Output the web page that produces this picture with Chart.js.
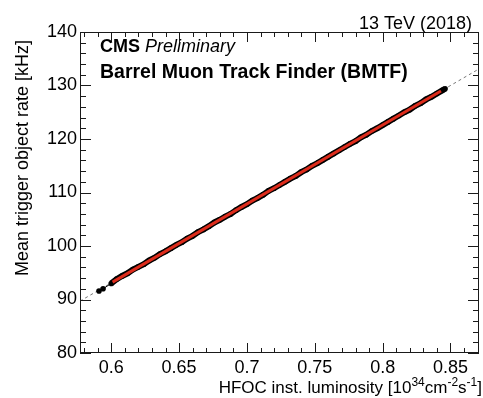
<!DOCTYPE html>
<html><head><meta charset="utf-8">
<script src="https://cdn.jsdelivr.net/npm/chart.js@4.4.0/dist/chart.umd.min.js"></script>
<style>html,body{margin:0;padding:0;background:#fff;}#wrap{width:483px;height:398px;}</style>
</head><body><div id="wrap"><canvas id="c" width="483" height="398"></canvas></div>
<script>
const lumi = [0.591,0.594,0.600,0.604,0.608,0.612,0.616,0.620,0.624,0.628,0.632,0.636,0.640,0.644,0.648,0.652,0.656,0.660,0.664,0.668,0.672,0.676,0.680,0.684,0.688,0.692,0.696,0.700,0.704,0.708,0.712,0.716,0.720,0.724,0.728,0.732,0.736,0.740,0.744,0.748,0.752,0.756,0.760,0.764,0.768,0.772,0.776,0.780,0.784,0.788,0.792,0.796,0.800,0.804,0.808,0.812,0.816,0.820,0.824,0.828,0.832,0.836,0.840,0.844,0.846];
const rate = [91.6,92.0,93.0,93.8,94.4,94.9,95.6,96.1,96.6,97.3,97.8,98.5,99.0,99.6,100.2,100.7,101.4,101.9,102.6,103.1,103.7,104.4,104.9,105.5,106.0,106.7,107.3,107.8,108.5,109.0,109.6,110.3,110.8,111.4,112.0,112.6,113.1,113.8,114.3,115.0,115.5,116.1,116.7,117.3,117.9,118.5,119.1,119.6,120.3,120.8,121.5,122.0,122.6,123.2,123.8,124.4,125.0,125.5,126.2,126.7,127.4,127.9,128.5,129.1,129.4];
// Linear fit: dashed extrapolation over full range, red over fitted range
const fitX = [0.577, 0.871];
const fitY = [89.7, 133.1];
const redX = [0.601, 0.843];
const redY = [93.25, 128.97];
// Axis ticks
const xTicks = [0.6, 0.65, 0.7, 0.75, 0.8, 0.85];
const xTickLabels = ['0.6', '0.65', '0.7', '0.75', '0.8', '0.85'];
const xMinor = [0.58,0.59,0.61,0.62,0.63,0.64,0.66,0.67,0.68,0.69,0.71,0.72,0.73,0.74,0.76,0.77,0.78,0.79,0.81,0.82,0.83,0.84,0.86,0.87];
const yTicks = [80, 90, 100, 110, 120, 130, 140];
const yTickLabels = ['80', '90', '100', '110', '120', '130', '140'];
const yMinor = [82,84,86,88,92,94,96,98,102,104,106,108,112,114,116,118,122,124,126,128,132,134,136,138];

const FONT = '"Liberation Sans", Arial, Helvetica, sans-serif';

const toPts = (xs, ys) => xs.map((x, i) => ({x: x, y: ys[i]}));

const framePlugin = {
  id: 'frame',
  afterDraw(chart) {
    const ctx = chart.ctx, a = chart.chartArea;
    const xs = chart.scales.x, ys = chart.scales.y;
    ctx.save();
    ctx.strokeStyle = '#1a1a1a';
    ctx.lineWidth = 1;
    ctx.strokeRect(a.left + 0.5, a.top + 0.5, a.right - a.left - 1, a.bottom - a.top - 1);
    ctx.beginPath();
    const xt = (v, len) => {
      const p = Math.round(xs.getPixelForValue(v)) + 0.5;
      ctx.moveTo(p, a.bottom); ctx.lineTo(p, a.bottom - len);
      ctx.moveTo(p, a.top); ctx.lineTo(p, a.top + len);
    };
    const yt = (v, len) => {
      const p = Math.round(ys.getPixelForValue(v)) + 0.5;
      ctx.moveTo(a.left, p); ctx.lineTo(a.left + len, p);
      ctx.moveTo(a.right, p); ctx.lineTo(a.right - len, p);
    };
    xTicks.forEach(v => xt(v, 10));
    xMinor.forEach(v => xt(v, 5));
    yTicks.forEach(v => yt(v, 11));
    yMinor.forEach(v => yt(v, 6));
    ctx.stroke();

    ctx.fillStyle = '#000';
    ctx.font = '18px ' + FONT;
    ctx.textAlign = 'right';
    ctx.textBaseline = 'alphabetic';
    ctx.fillText('13 TeV (2018)', 472, 29);
    ctx.textAlign = 'left';
    ctx.font = 'bold 18px ' + FONT;
    ctx.fillText('CMS', 100, 52);
    const w = ctx.measureText('CMS ').width;
    ctx.font = 'italic 18px ' + FONT;
    ctx.fillText('Preliminary', 100 + w, 52);
    ctx.font = 'bold 19.5px ' + FONT;
    ctx.fillText('Barrel Muon Track Finder (BMTF)', 100, 78);

    ctx.save();
    ctx.translate(28, 40);
    ctx.rotate(-Math.PI / 2);
    ctx.font = '18px ' + FONT;
    ctx.textAlign = 'right';
    ctx.fillText('Mean trigger object rate [kHz]', 0, 0);
    ctx.restore();

    const parts = [
      {t: 'HFOC inst. luminosity [10', sup: false},
      {t: '34', sup: true},
      {t: 'cm', sup: false},
      {t: '-2', sup: true},
      {t: 's', sup: false},
      {t: '-1', sup: true},
      {t: ']', sup: false}
    ];
    const mainF = '17px ' + FONT, supF = '12px ' + FONT;
    let total = 0;
    parts.forEach(p => { ctx.font = p.sup ? supF : mainF; p.w = ctx.measureText(p.t).width; total += p.w; });
    let x = 482 - total;
    const base = 393;
    ctx.textAlign = 'left';
    parts.forEach(p => {
      ctx.font = p.sup ? supF : mainF;
      ctx.fillText(p.t, x, p.sup ? base - 7 : base);
      x += p.w;
    });
    ctx.restore();
  }
};

new Chart(document.getElementById('c'), {
  type: 'scatter',
  data: {
    datasets: [
      {
        label: 'fit',
        data: toPts(redX, redY),
        showLine: true,
        borderColor: '#dd2c1c',
        borderWidth: 3,
        pointRadius: 0,
        fill: false
      },
      {
        label: 'data',
        data: toPts(lumi, rate),
        showLine: true,
        borderColor: '#000',
        borderWidth: 6,
        segment: {
          borderWidth: c => (c.p0.parsed.x < 0.5995 ? 0 : 6)
        },
        backgroundColor: '#000',
        pointBackgroundColor: '#000',
        pointBorderWidth: 0,
        pointRadius: 2.8,
        fill: false
      },
      {
        label: 'extrapolation',
        data: toPts(fitX, fitY),
        showLine: true,
        borderColor: '#777',
        borderWidth: 1,
        borderDash: [3, 3],
        pointRadius: 0,
        fill: false
      }
    ]
  },
  options: {
    responsive: false,
    devicePixelRatio: 1,
    animation: false,
    events: [],
    layout: {padding: {top: 32, right: 1, left: 0, bottom: 0}},
    plugins: {legend: {display: false}, tooltip: {enabled: false}, title: {display: false}},
    scales: {
      x: {
        type: 'linear',
        min: 0.577,
        max: 0.871,
        afterBuildTicks: s => { s.ticks = xTicks.map(v => ({value: v})); },
        afterFit: s => { s.height = 45; },
        grid: {display: false, drawTicks: false},
        border: {display: false},
        ticks: {
          autoSkip: false, maxRotation: 0, minRotation: 0, padding: 4,
          color: '#000', font: {family: FONT, size: 18},
          callback: (v) => xTickLabels[xTicks.indexOf(v)] ?? ''
        }
      },
      y: {
        type: 'linear',
        min: 80,
        max: 140,
        afterBuildTicks: s => { s.ticks = yTicks.map(v => ({value: v})); },
        afterFit: s => { s.width = 80; },
        grid: {display: false, drawTicks: false},
        border: {display: false},
        ticks: {
          autoSkip: false, padding: 3,
          color: '#000', font: {family: FONT, size: 18},
          callback: (v) => yTickLabels[yTicks.indexOf(v)] ?? ''
        }
      }
    }
  },
  plugins: [framePlugin]
});
</script>
</body></html>
